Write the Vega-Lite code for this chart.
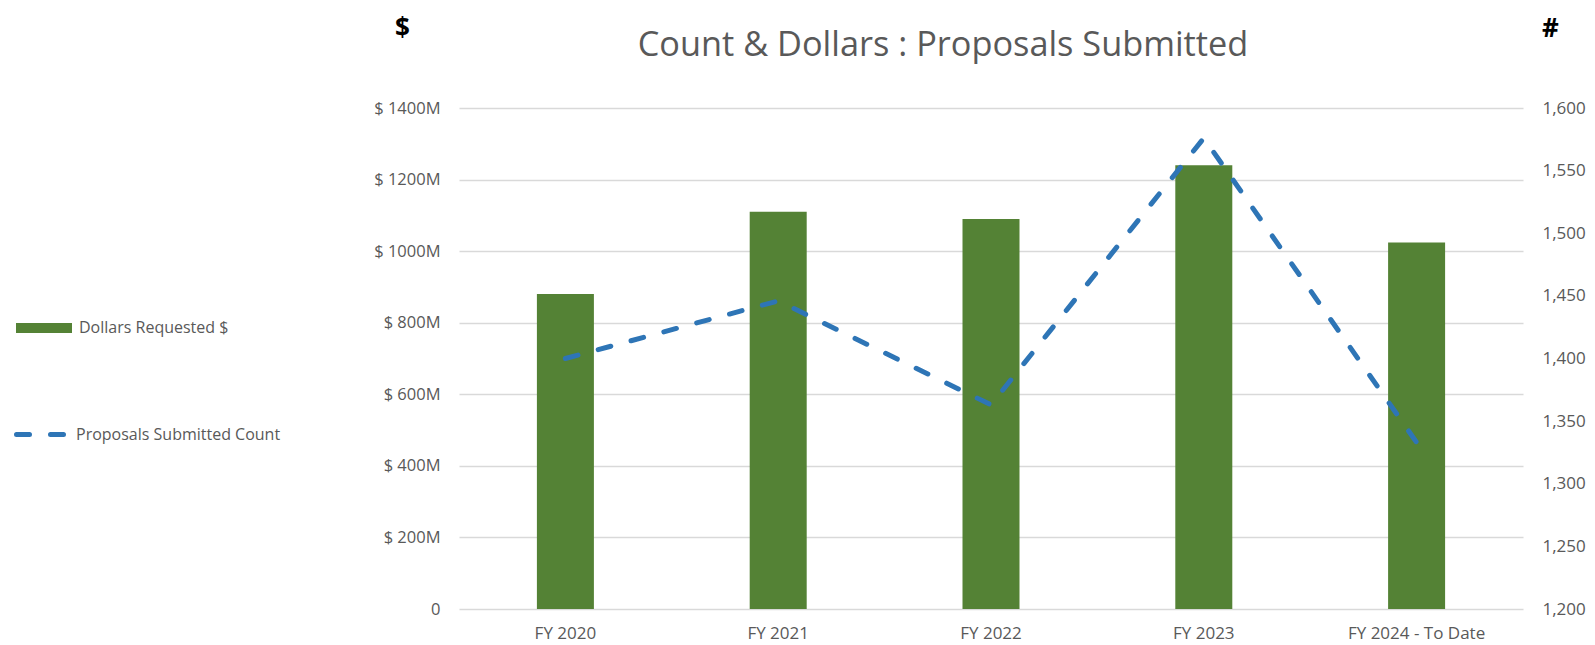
{
  "$schema": "https://vega.github.io/schema/vega-lite/v6.json",
  "autosize": {"type": "none"},
  "width": 1064,
  "height": 501,
  "padding": {"left": 459, "top": 108, "right": 72, "bottom": 36},
  "background": "white",
  "config": {
    "view": {"stroke": null},
    "font": "Open Sans",
    "axis": {"labelFont": "Open Sans", "labelColor": "#595959", "domain": false, "ticks": false},
    "legend": {"labelFont": "Open Sans", "labelColor": "#595959", "labelFontSize": 16, "padding": 0, "labelLimit": 400}
  },
  "title": {
    "text": "Count & Dollars : Proposals Submitted",
    "fontSize": 34.3,
    "font": "Open Sans",
    "fontWeight": "normal",
    "color": "#595959",
    "anchor": "middle",
    "frame": "group",
    "dx": -48,
    "dy": 52
  },
  "data": {
    "values": [
      {"fy": "FY 2020", "dollars": 880, "count": 1400},
      {"fy": "FY 2021", "dollars": 1110, "count": 1446},
      {"fy": "FY 2022", "dollars": 1090, "count": 1363},
      {"fy": "FY 2023", "dollars": 1240, "count": 1576},
      {"fy": "FY 2024 - To Date", "dollars": 1024, "count": 1333}
    ]
  },
  "encoding": {
    "x": {
      "field": "fy",
      "type": "nominal",
      "sort": null,
      "scale": {"paddingInner": 0, "paddingOuter": 0},
      "axis": {"title": null, "labelAngle": 0, "labelFontSize": 17, "labelPadding": 16}
    }
  },
  "layer": [
    {
      "mark": {"type": "bar", "size": 57},
      "encoding": {
        "y": {
          "field": "dollars",
          "type": "quantitative",
          "scale": {"domain": [0, 1400], "nice": false},
          "axis": {
            "values": [0, 200, 400, 600, 800, 1000, 1200, 1400],
            "labelExpr": "datum.value == 0 ? '0' : '$ ' + datum.value + 'M'",
            "labelFontSize": 16.5,
            "labelPadding": 19,
            "grid": true,
            "gridColor": "#D9D9D9",
            "gridWidth": 1.3,
            "title": "$",
            "titleAngle": 0,
            "titleFontSize": 26,
            "titleFontWeight": "bold",
            "titleColor": "#000000",
            "titleAlign": "center",
            "titleBaseline": "middle",
            "titleX": -57,
            "titleY": -80
          }
        },
        "fill": {
          "datum": "Dollars Requested $",
          "type": "nominal",
          "scale": {"range": ["#548235"]},
          "legend": {
            "title": null,
            "orient": "none",
            "legendX": -443,
            "legendY": 192,
            "symbolType": "M-1,-0.18H1V0.18H-1Z",
            "symbolSize": 3136,
            "symbolStrokeWidth": 0,
            "labelOffset": 7
          }
        }
      }
    },
    {
      "mark": {"type": "line", "strokeWidth": 5, "strokeDash": [13, 21], "strokeCap": "round"},
      "encoding": {
        "y": {
          "field": "count",
          "type": "quantitative",
          "scale": {"domain": [1200, 1600], "nice": false, "zero": false},
          "axis": {
            "orient": "right",
            "values": [1200, 1250, 1300, 1350, 1400, 1450, 1500, 1550, 1600],
            "labelExpr": "format(datum.value, ',')",
            "labelFontSize": 17,
            "labelPadding": 19,
            "grid": false,
            "title": "#",
            "titleAngle": 0,
            "titleFontSize": 26,
            "titleFontWeight": "bold",
            "titleColor": "#000000",
            "titleAlign": "center",
            "titleBaseline": "middle",
            "titleX": 27,
            "titleY": -80
          }
        },
        "stroke": {
          "datum": "Proposals Submitted Count",
          "type": "nominal",
          "scale": {"range": ["#2E75B6"]},
          "legend": {
            "title": null,
            "orient": "none",
            "legendX": -445,
            "legendY": 300,
            "symbolType": "stroke",
            "symbolSize": 2304,
            "symbolStrokeWidth": 5,
            "symbolDash": [13, 21],
            "labelOffset": 9,
            "encode": {"symbols": {"update": {"strokeCap": {"value": "round"}}}}
          }
        }
      }
    }
  ],
  "resolve": {"scale": {"y": "independent", "fill": "independent", "stroke": "independent"}}
}
